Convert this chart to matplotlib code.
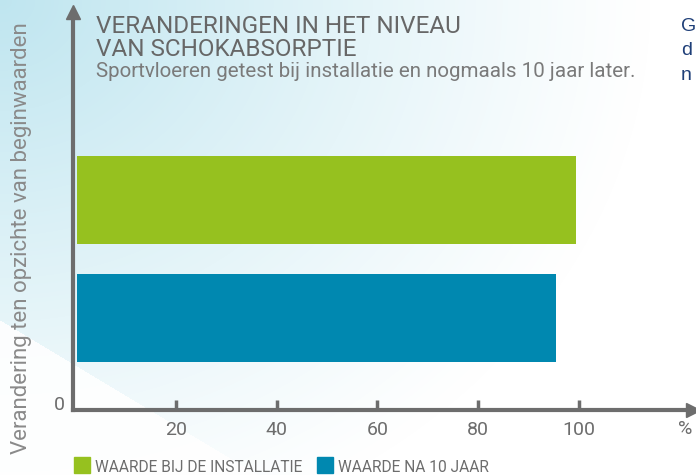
import matplotlib
matplotlib.use("Agg")
import matplotlib.pyplot as plt
from matplotlib import font_manager
import numpy as np

# data
series = ["WAARDE BIJ DE INSTALLATIE", "WAARDE NA 10 JAAR"]
values = [99.2, 95.2]
colors = ["#96c11f", "#0088b0"]
xticks = [20, 40, 60, 80, 100]

title_lines = ["VERANDERINGEN IN HET NIVEAU", "VAN SCHOKABSORPTIE"]
subtitle = "Sportvloeren getest bij installatie en nogmaals 10 jaar later."
ylabel = "Verandering ten opzichte van beginwaarden"

W, H = 696, 475
fig = plt.figure(figsize=(W / 100, H / 100), dpi=100)
plt.rcParams['font.family'] = ['Roboto', 'DejaVu Sans']

installed = {f.name for f in font_manager.fontManager.ttflist}
narrow = 'Liberation Sans Narrow' if 'Liberation Sans Narrow' in installed else 'Roboto'
legend_size = 12.5 if narrow != 'Roboto' else 11.2


def py(p):
    # pixel row -> figure fraction
    return 1 - p / H


# background: light blue wash in the top-left corner
bg = fig.add_axes([0, 0, 1, 1], zorder=-10)
yy, xx = np.mgrid[0:H, 0:W]
d = np.sqrt((xx / 650.0) ** 2 + (yy / 560.0) ** 2)
a = np.clip(1 - d, 0, 1) ** 1.1
cut = yy > 320 + xx * 0.6
a = np.where(cut, a * 0.12, a)
base = np.array([0.75, 0.90, 0.94])
img = 1 - a[..., None] * (1 - base)
bg.imshow(img, extent=[0, W, H, 0], aspect="auto")
bg.set_xlim(0, W)
bg.set_ylim(H, 0)
bg.axis("off")

# main axes in pixel-matched position
x0, x1 = 73, 693
yb, yt = 410, 12
ax = fig.add_axes([x0 / W, py(yb), (x1 - x0) / W, (yb - yt) / H])
ax.patch.set_alpha(0)
px_per_unit = 5.04
ax.set_xlim(-0.4, (x1 - x0) / px_per_unit - 0.4)
ax.set_ylim(-0.78, 2.59)

pos = [1, 0]
for v, c, p in zip(values, colors, pos):
    ax.barh(p, v, height=0.746, color=c, left=0.3)

gray = "#6d6d6d"
for s in ["top", "right"]:
    ax.spines[s].set_visible(False)
for s in ["left", "bottom"]:
    ax.spines[s].set_color(gray)
    ax.spines[s].set_linewidth(3)
ax.plot(1, 0, ">", color=gray, ms=10, transform=ax.transAxes, clip_on=False)
ax.plot(0, 1, "^", color=gray, ms=10, transform=ax.transAxes, clip_on=False)

ax.set_xticks(xticks)
ax.set_xticklabels([str(t) for t in xticks])
ax.tick_params(axis="x", direction="in", length=7, width=2.5, color=gray,
               labelsize=14, labelcolor=gray, pad=8)
ax.set_yticks([])

fig.text(59 / W, py(405), "0", ha="center", va="center", fontsize=14,
         color=gray)
fig.text(685 / W, py(429), "%", ha="center", va="center", fontsize=14,
         color=gray)

# titles
fig.text(96 / W, py(33), title_lines[0], ha="left", va="baseline",
         fontsize=17.5, color="#676767")
fig.text(96 / W, py(56.5), title_lines[1], ha="left", va="baseline",
         fontsize=17.5, color="#676767")
fig.text(96 / W, py(77), subtitle, ha="left", va="baseline", fontsize=14.8,
         color="#7a7a7a")
fig.text(22 / W, py(238), ylabel, rotation=90, ha="center", va="center",
         fontsize=16, color="#8a8a8a")

# cut-off text on the right
for i, ch in enumerate(["G", "d", "n"]):
    fig.text(681 / W, py(31 + i * 24.3), ch, ha="left", va="baseline",
             fontsize=14, color="#1f3f78", family="Liberation Sans")

# legend
lx = [74, 317]
for x, c, s in zip(lx, colors, series):
    fig.patches.append(plt.Rectangle((x / W, py(473)), 16 / W, 16 / H,
                                     transform=fig.transFigure, color=c))
    fig.text((x + 21) / W, py(472), s, ha="left", va="baseline",
             fontsize=legend_size, color="#6d6d6d", family=narrow)

fig.savefig("out.png", dpi=100)
